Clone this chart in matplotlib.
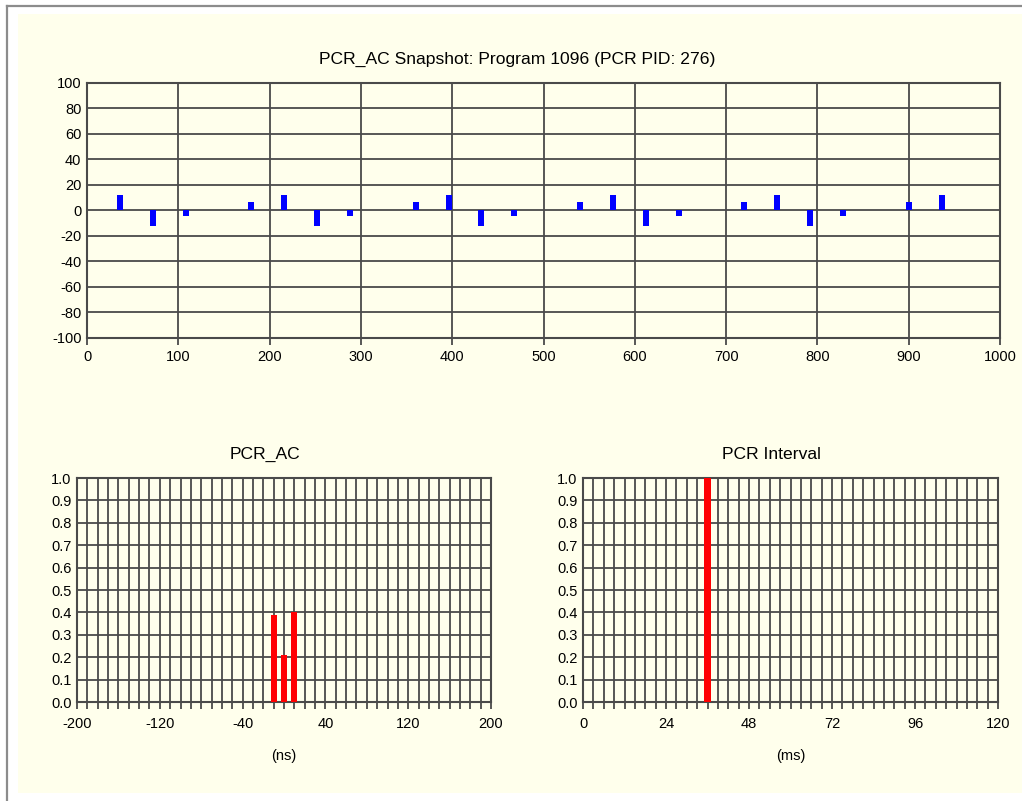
import matplotlib
matplotlib.use("Agg")
import matplotlib.pyplot as plt
from matplotlib.patches import Rectangle
from matplotlib.lines import Line2D
import numpy as np

# snapshot of PCR_AC values (ns) against position
snap_x = [36, 72, 108, 180, 216, 252, 288, 360, 396, 432, 468, 540, 576, 612,
          648, 720, 756, 792, 828, 900, 936]
snap_y = [12, -12, -4.5, 7, 12, -12, -4.5, 7, 12, -12, -4.5, 7, 12, -12,
          -4.5, 7, 12, -12, -4.5, 7, 12]

# PCR_AC histogram (ns)
ac_x = [-10, 0, 10]
ac_y = [0.39, 0.21, 0.40]

# PCR interval histogram (ms)
iv_x = [36]
iv_y = [1.0]

BG = "#ffffec"
GRID = "#4a4a4a"
plt.rcParams['font.family'] = ['Liberation Sans', 'DejaVu Sans']
plt.rcParams['font.size'] = 10.5
plt.rcParams['axes.unicode_minus'] = False

W, H = 1022, 801
fig = plt.figure(figsize=(W / 100, H / 100), dpi=100, facecolor="white")

# panel background and frame
fig.patches.append(Rectangle((18 / W, 1 - 793 / H), 1 - 18 / W, (793 - 14) / H,
                             transform=fig.transFigure, facecolor=BG,
                             edgecolor="none", zorder=-10))
fig.lines.append(Line2D([6.5 / W, 6.5 / W], [0, 1 - 5.5 / H], transform=fig.transFigure,
                        color="#8c8c8c", lw=1.6, zorder=-5))
fig.lines.append(Line2D([6.5 / W, 1], [1 - 5.5 / H, 1 - 5.5 / H], transform=fig.transFigure,
                        color="#8c8c8c", lw=1.6, zorder=-5))


def make_ax(l, t, r, b, xpad=3):
    ax = fig.add_axes([l / W, 1 - b / H, (r - l) / W, (b - t) / H])
    ax.set_facecolor(BG)
    for s in ax.spines.values():
        s.set_color(GRID)
        s.set_linewidth(1.5)
    ax.grid(True, which="both", color=GRID, lw=1.3)
    ax.set_axisbelow(True)
    ax.tick_params(axis="y", length=0, pad=4)
    ax.tick_params(axis="x", which="both", length=5, width=1.3, color=GRID, pad=xpad)
    return ax


# top snapshot
ax1 = make_ax(87, 83, 1000, 338, xpad=4)
ax1.bar(snap_x, snap_y, width=6.5, color="#0000ff", zorder=3)
ax1.set_xlim(0, 1000)
ax1.set_ylim(-100, 100)
ax1.set_xticks(np.arange(0, 1001, 100))
ax1.set_yticks(np.arange(-100, 101, 20))
ax1.set_title("PCR_AC Snapshot: Program 1096 (PCR PID: 276)", pad=14, x=0.4715)

# PCR_AC histogram
ax2 = make_ax(77, 478, 491, 702, xpad=6)
ax2.bar(ac_x, ac_y, width=6, color="#ff0000", zorder=3)
ax2.set_xlim(-200, 200)
ax2.set_ylim(0, 1)
ax2.set_xticks(np.arange(-200, 201, 80))
ax2.set_xticks(np.arange(-200, 201, 10), minor=True)
ax2.set_yticks(np.arange(0, 1.01, 0.1))
ax2.set_yticklabels([f"{v:.1f}" for v in np.arange(0, 1.01, 0.1)])
ax2.set_title("PCR_AC", pad=14, x=0.454)
ax2.set_xlabel("(ns)", labelpad=13)

# PCR interval histogram
ax3 = make_ax(583, 478, 998, 702, xpad=6)
ax3.bar(iv_x, iv_y, width=2, color="#ff0000", zorder=3)
ax3.set_xlim(0, 120)
ax3.set_ylim(0, 1)
ax3.set_xticks(np.arange(0, 121, 24))
ax3.set_xticks(np.arange(0, 121, 3), minor=True)
ax3.set_yticks(np.arange(0, 1.01, 0.1))
ax3.set_yticklabels([f"{v:.1f}" for v in np.arange(0, 1.01, 0.1)])
ax3.set_title("PCR Interval", pad=14, x=0.453)
ax3.set_xlabel("(ms)", labelpad=13)

fig.savefig("out.png", dpi=100, facecolor="white")
